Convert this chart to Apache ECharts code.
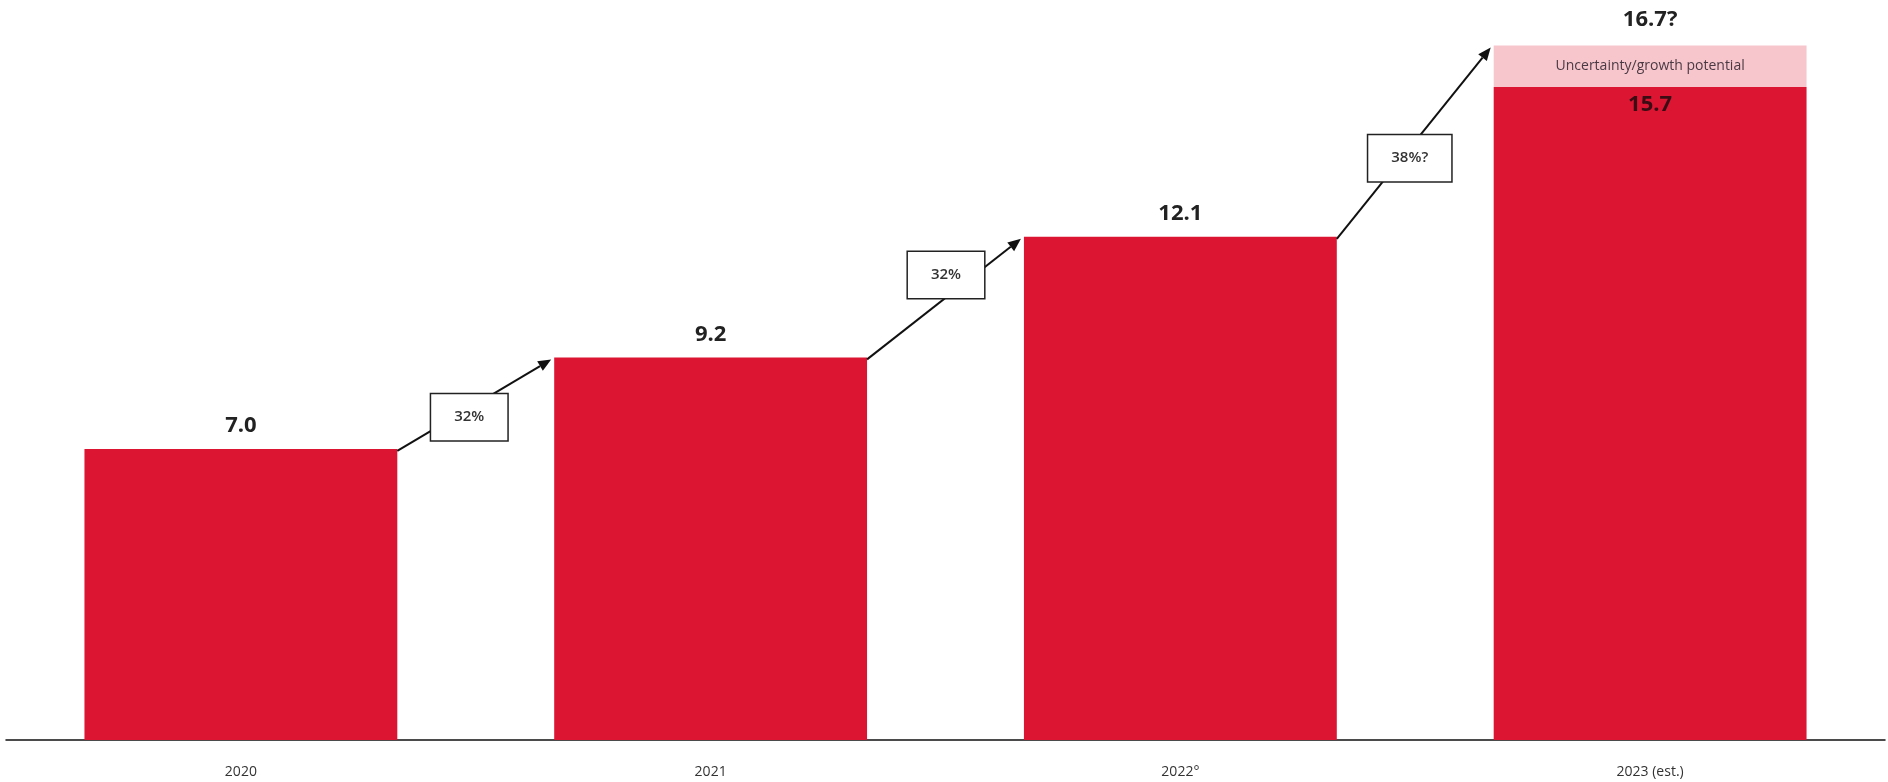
<!DOCTYPE html>
<html>
<head>
<meta charset="utf-8">
<script src="https://cdn.jsdelivr.net/npm/echarts@6/dist/echarts.min.js"></script>
<style>
  html, body { margin: 0; padding: 0; background: #ffffff; }
  #chart { width: 1888px; height: 782px; }
</style>
</head>
<body>
<div id="chart"></div>
<script>
// Yearly volumes; the last year carries an uncertain upside on top
const years = ['2020', '2021', '2022°', '2023 (est.)'];
const volumes = [7.0, 9.2, 12.1, 15.7];
const upside = [null, null, null, 1.0];          // 15.7 + 1.0 = 16.7
const upsideTotalLabel = '16.7?';
const upsideNote = 'Uncertainty/growth potential';
const growthLabels = ['32%', '32%', '38%?'];

// Layout constants
const BAR_RATIO = 0.666;                          // bar width as share of the band
const BOX_SHIFT = [[-5, 12], [2, -24], [-4, 15]]; // growth box offset from arrow midpoint

const FONT = '"Open Sans", "Noto Sans", sans-serif';
const RED = '#DC1632';
const PINK = '#F7C6CD';

// Arrows go from the top of one bar to the top of the next stack
const arrowData = growthLabels.map((lbl, i) => {
  const next = volumes[i + 1] + (upside[i + 1] || 0);
  return [i, volumes[i], next, lbl];
});

const chart = echarts.init(document.getElementById('chart'), null, { renderer: 'canvas' });

chart.setOption({
  animation: false,
  backgroundColor: '#ffffff',
  grid: { left: 6, right: 3, top: 33, bottom: 42, containLabel: false },
  xAxis: {
    type: 'category',
    data: years,
    axisLine: { show: true, lineStyle: { color: '#111', width: 1.5 } },
    axisTick: { show: false },
    axisLabel: { color: '#333', fontFamily: FONT, fontSize: 14, margin: 25 }
  },
  yAxis: {
    type: 'value', min: 0, max: 17, show: false,
    splitLine: { show: false }
  },
  series: [
    {
      type: 'bar',
      stack: 'total',
      data: volumes.map((v, i) => ({
        value: v,
        label: i === volumes.length - 1
          ? { position: 'insideTop', distance: 7, color: '#3a0c14' }
          : { position: 'top', distance: 12, color: '#222' }
      })),
      barWidth: (BAR_RATIO * 100) + '%',
      itemStyle: { color: RED },
      label: {
        show: true,
        fontFamily: FONT, fontSize: 22, fontWeight: 'bold',
        formatter: p => p.value.toFixed(1)
      },
      z: 2
    },
    {
      type: 'bar',
      stack: 'total',
      data: upside,
      barWidth: (BAR_RATIO * 100) + '%',
      itemStyle: { color: PINK },
      label: {
        show: true, position: 'inside',
        fontFamily: FONT, fontSize: 14, color: '#4a3a44',
        formatter: () => upsideNote
      },
      z: 2
    },
    {
      // total label above the upside segment
      type: 'bar',
      stack: 'total',
      data: upside.map(v => (v == null ? null : 0)),
      barWidth: (BAR_RATIO * 100) + '%',
      itemStyle: { color: 'transparent' },
      label: {
        show: true, position: 'top', distance: 15,
        fontFamily: FONT, fontSize: 22, fontWeight: 'bold', color: '#222',
        formatter: () => upsideTotalLabel
      },
      z: 2
    },
    {
      type: 'custom',
      data: arrowData,
      clip: false,
      z: 5,
      renderItem(params, api) {
        const i = api.value(0);
        const from = api.coord([i, api.value(1)]);
        const to = api.coord([i + 1, api.value(2)]);
        const half = api.size([1, 0])[0] * BAR_RATIO / 2;
        const x0 = from[0] + half, y0 = from[1] + 2;
        const x1 = to[0] - half - 3, y1 = to[1] + 2;
        const dx = x1 - x0, dy = y1 - y0;
        const len = Math.hypot(dx, dy);
        const ux = dx / len, uy = dy / len;
        const L = 13, W = 5.5;
        const bx = x1 - ux * L, by = y1 - uy * L;
        const shift = BOX_SHIFT[params.dataIndex] || [0, 0];
        const mx = (x0 + x1) / 2 + shift[0], my = (y0 + y1) / 2 + shift[1];
        return {
          type: 'group',
          children: [
            {
              type: 'line',
              shape: { x1: x0, y1: y0, x2: bx, y2: by },
              style: { stroke: '#111', lineWidth: 2 }
            },
            {
              type: 'polygon',
              shape: { points: [[x1, y1], [bx - uy * W, by + ux * W], [bx + uy * W, by - ux * W]] },
              style: { fill: '#111' }
            },
            {
              type: 'text',
              x: mx, y: my,
              style: {
                text: api.value(3),
                fontFamily: FONT, fontSize: 15, fontWeight: 600, fill: '#333',
                align: 'center', verticalAlign: 'middle',
                lineHeight: 18,
                backgroundColor: '#ffffff',
                borderColor: '#222', borderWidth: 1.5,
                padding: [14, 23]
              }
            }
          ]
        };
      }
    }
  ]
});
</script>
</body>
</html>
